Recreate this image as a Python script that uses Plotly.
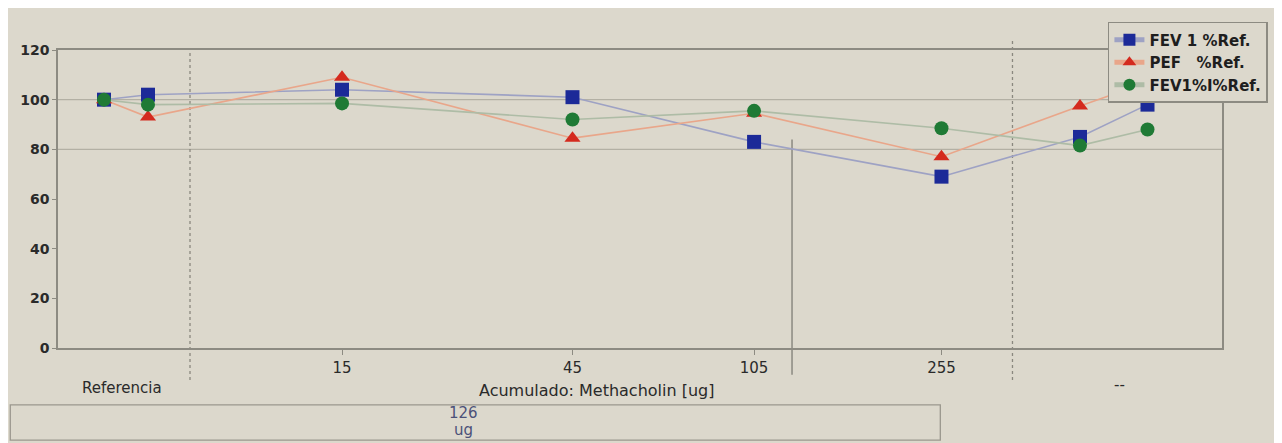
import plotly.graph_objects as go

# ---- data ----
x_pos = [3.95, 7.73, 24.4, 44.2, 59.8, 75.9, 87.8, 93.6]
fev1 = [100, 102, 104, 101, 83, 69, 85, 98]
pef = [100, 93, 109, 84.5, 94.5, 77, 97.5, 107]
fev1_i = [100, 98, 98.5, 92, 95.5, 88.5, 81.5, 88]

tick_pos = [24.4, 44.2, 59.8, 75.9]
tick_text = ["15", "45", "105", "255"]
y_ticks = [0, 20, 40, 60, 80, 100, 120]

series_names = ["FEV 1 %Ref.", "PEF\u00a0\u00a0\u00a0%Ref.", "FEV1%I%Ref."]

BG = "#dcd8cc"
AX = "#8d8b82"
FONT = "DejaVu Sans"
TXT = "#2a2a2a"

fig = go.Figure()
fig.add_trace(go.Scatter(
    x=x_pos, y=fev1, name=series_names[0], mode="lines+markers",
    line=dict(color="#9ea2c4", width=1.6),
    marker=dict(symbol="square", size=14, color="#1c2a98")))
fig.add_trace(go.Scatter(
    x=x_pos, y=pef, name=series_names[1], mode="lines+markers",
    line=dict(color="#e9a68a", width=1.6),
    marker=dict(symbol="triangle-up", size=14, color="#d42a1e")))
fig.add_trace(go.Scatter(
    x=x_pos, y=fev1_i, name=series_names[2], mode="lines+markers",
    line=dict(color="#aebca6", width=1.6),
    marker=dict(symbol="circle", size=14, color="#1f7a35")))

shapes = []
for yv in [80, 100]:
    shapes.append(dict(type="line", xref="paper", yref="y", x0=0, x1=1, y0=yv, y1=yv,
                       line=dict(color="#b3b0a4", width=1.2), layer="below"))
for xv, y1 in [(11.34, 1.0), (82.0, 1.03)]:
    shapes.append(dict(type="line", xref="x", yref="paper", x0=xv, x1=xv, y0=-0.107, y1=y1,
                       line=dict(color="#8a887f", width=1.3, dash="dot"), layer="below"))
shapes.append(dict(type="line", xref="x", yref="paper", x0=63.06, x1=63.06, y0=-0.09, y1=0.7,
                   line=dict(color="#7f7d75", width=1.3), layer="below"))
shapes.append(dict(type="rect", xref="paper", yref="paper", x0=-0.041, x1=0.758, y0=-0.309, y1=-0.191,
                   line=dict(color="#9a978d", width=1.3), fillcolor=BG))

annotations = [
    dict(text="Acumulado: Methacholin [ug]", xref="paper", yref="paper", x=0.463, y=-0.141,
         yanchor="middle", showarrow=False, font=dict(family=FONT, size=16, color=TXT)),
    dict(text="Referencia", xref="x", yref="paper", x=5.5, y=-0.135,
         yanchor="middle", showarrow=False, font=dict(family=FONT, size=15, color=TXT)),
    dict(text="--", xref="x", yref="paper", x=91.2, y=-0.124,
         yanchor="middle", showarrow=False, font=dict(family=FONT, size=15, color=TXT)),
    dict(text="126", xref="paper", yref="paper", x=0.348, y=-0.218,
         yanchor="middle", showarrow=False, font=dict(family=FONT, size=15, color="#4b5179")),
    dict(text="ug", xref="paper", yref="paper", x=0.348, y=-0.274,
         yanchor="middle", showarrow=False, font=dict(family=FONT, size=15, color="#4b5179")),
]

# the page adds an 8px body margin, so the figure is sized to fill the rest of the window
fig.update_layout(
    width=1274, height=435,
    margin=dict(l=50, r=60, t=42, b=95),
    paper_bgcolor=BG, plot_bgcolor=BG,
    font=dict(family=FONT, size=13, color=TXT),
    showlegend=True,
    legend=dict(x=0.902, y=1.094, xanchor="left", yanchor="top",
                bgcolor=BG, bordercolor="#8d8b82", borderwidth=1.5,
                font=dict(family=FONT, size=15, color="#1e1e1e", weight="bold"),
                tracegroupgap=0, itemsizing="constant", valign="middle", itemwidth=30),
    shapes=shapes,
    annotations=annotations,
)
fig.update_xaxes(range=[0, 100], tickvals=tick_pos, ticktext=tick_text,
                 showgrid=False, zeroline=False, showline=True, linecolor=AX, linewidth=1.5,
                 mirror=True, ticks="outside", ticklen=5, tickcolor=AX,
                 tickfont=dict(family=FONT, size=15, color=TXT))
fig.update_yaxes(range=[0, 120], tickvals=y_ticks,
                 showgrid=False, zeroline=False, showline=True, linecolor=AX, linewidth=1.5,
                 mirror=True, ticks="outside", ticklen=4, tickcolor=AX,
                 tickfont=dict(family=FONT, size=14, color=TXT, weight="bold"))

fig.write_html("out.html")
